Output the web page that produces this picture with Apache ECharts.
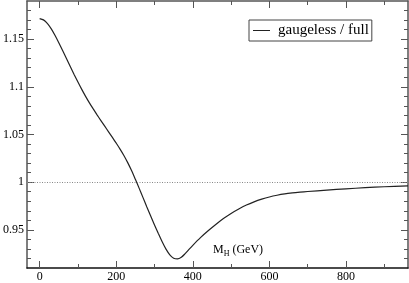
<!DOCTYPE html>
<html>
<head>
<meta charset="utf-8">
<script src="https://cdn.jsdelivr.net/npm/echarts@6/dist/echarts.min.js"></script>
<style>html,body{margin:0;padding:0;background:#fff;}#c{width:409px;height:283px;}</style>
</head>
<body>
<div id="c"></div>
<script>
// Data
var massGeV = [0,10,20,30,40,50,60,70,80,90,100,110,120,130,140,150,160,170,180,190,200,210,220,230,240,250,260,270,280,290,300,310,320,330,340,350,360,370,380,390,400,420,440,460,480,500,520,540,560,580,600,620,640,660,680,700,750,800,850,900,962];
var ratio = [1.1716,1.1702,1.1665,1.1610,1.1540,1.1462,1.1380,1.1296,1.1212,1.1130,1.1050,1.0973,1.0900,1.0832,1.0768,1.0706,1.0646,1.0587,1.0528,1.0469,1.0409,1.0347,1.0280,1.0205,1.0122,1.0030,0.9935,0.9838,0.9740,0.9645,0.9552,0.9462,0.9375,0.9298,0.9238,0.9203,0.9195,0.9212,0.9250,0.9295,0.9338,0.9418,0.9490,0.9556,0.9618,0.9672,0.9718,0.9760,0.9794,0.9822,0.9845,0.9863,0.9877,0.9887,0.9895,0.9902,0.9917,0.9930,0.9942,0.9952,0.9962];
var xMajorTicks = [0,200,400,600,800];
var xMinorTicks = [100,300,500,700,900];
var yMajorTicks = [0.95,1,1.05,1.1,1.15];
var yMinorTicks = [0.92,0.93,0.94,0.96,0.97,0.98,0.99,1.01,1.02,1.03,1.04,1.06,1.07,1.08,1.09,1.11,1.12,1.13,1.14,1.16,1.17,1.18];
var seriesName = 'gaugeless / full';
var refLevel = 1;

var data = massGeV.map(function(m,i){return [m, ratio[i]];});
var serif = 'Liberation Serif';
var frame = '#555';

function xAx(pos, ticks, len, showLine, showLabel, lineColor){
  return {
    type:'value', position:pos, min:-33, max:962,
    axisLine:{show:showLine, onZero:false, lineStyle:{color:lineColor||frame, width:1.5}},
    axisTick:{show:true, inside:true, length:len, customValues:ticks, lineStyle:{color:frame, width:1}},
    axisLabel:{show:showLabel, customValues:xMajorTicks, margin:3, color:'#000', fontFamily:serif, fontSize:12},
    splitLine:{show:false}
  };
}
function yAx(pos, ticks, len, showLine, showLabel){
  return {
    type:'value', position:pos, min:0.91, max:1.19,
    axisLine:{show:showLine, onZero:false, lineStyle:{color:frame, width:1.5}},
    axisTick:{show:true, inside:true, length:len, customValues:ticks, lineStyle:{color:frame, width:1}},
    axisLabel:{show:showLabel, customValues:yMajorTicks, margin:3, color:'#000', fontFamily:serif, fontSize:12,
      formatter:function(v){return String(+v.toFixed(2));}},
    splitLine:{show:false}
  };
}

var chart = echarts.init(document.getElementById('c'), null, {renderer:'canvas'});
chart.setOption({
  animation:false,
  backgroundColor:'#fff',
  grid:{left:23, right:1, top:1, bottom:13, containLabel:false},
  xAxis:[
    xAx('bottom', xMajorTicks, 7, true, true, '#111'),
    xAx('bottom', xMinorTicks, 4, false, false),
    xAx('top', xMajorTicks, 7, true, false),
    xAx('top', xMinorTicks, 4, false, false)
  ],
  yAxis:[
    yAx('left', yMajorTicks, 7, true, true),
    yAx('left', yMinorTicks, 4, false, false),
    yAx('right', yMajorTicks, 7, true, false),
    yAx('right', yMinorTicks, 4, false, false)
  ],
  legend:{
    left:249, top:20, orient:'horizontal',
    padding:[3,3,3,4],
    borderColor:'#444', borderWidth:1, borderRadius:0,
    itemWidth:17, itemHeight:1, icon:'rect',
    textStyle:{fontFamily:serif, fontSize:15, color:'#000', padding:[0,0,0,3]},
    data:[seriesName]
  },
  series:[{
    name:seriesName, type:'line', xAxisIndex:0, yAxisIndex:0,
    data:data, smooth:0.3, symbol:'none',
    lineStyle:{color:'#222', width:1.2}, itemStyle:{color:'#222'},
    markLine:{silent:true, symbol:'none', label:{show:false},
      lineStyle:{color:'#888', type:[1,1.5], width:1},
      data:[{yAxis:refLevel}]}
  }],
  graphic:[{
    type:'text', left:213, top:244,
    style:{
      text:'{a|M}{b|H}{a| (GeV)}',
      rich:{
        a:{fontFamily:serif, fontSize:12, fill:'#000'},
        b:{fontFamily:serif, fontSize:8, fill:'#000', padding:[8,0,0,0]}
      }
    }
  }]
});
</script>
</body>
</html>
